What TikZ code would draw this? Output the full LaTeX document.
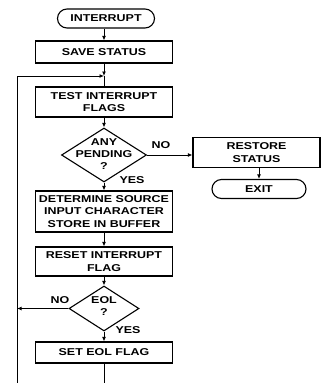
\documentclass[tikz,border=0pt]{standalone}
\usepackage{fontspec}
\setmainfont{Liberation Sans}[FakeStretch=1.25]
\usetikzlibrary{shapes.misc,shapes.geometric,arrows.meta}
\begin{document}
\begin{tikzpicture}[x=1bp,y=-1bp,
 every node/.style={font=\bfseries\fontsize{10}{12.3}\selectfont, align=center, inner sep=0pt},
 proc/.style={draw, line width=1.1bp, minimum width=137bp},
 term/.style={draw, rounded rectangle, line width=1.1bp},
 dia/.style={draw, diamond, line width=1.1bp},
 arr/.style={line width=1bp, -{Latex[length=4.5bp,width=4bp]}},
 ln/.style={line width=1bp}]
\fill[white] (0,0) rectangle (331,383);
\useasboundingbox (0,0) rectangle (331,383);
% nodes
\node[term, minimum width=97bp, minimum height=19bp] (int) at (106,18.5) {INTERRUPT};
\node[proc, minimum height=22bp] (save) at (104,52) {SAVE STATUS};
\coordinate (j) at (104,76);
\node[proc, minimum height=30bp] (test) at (104,102) {TEST INTERRUPT\\FLAGS};
\node[dia, minimum width=85bp, minimum height=54bp] (any) at (104,155) {};
\node (anyt) at (104,154) {ANY\\PENDING\\?};
\node[proc, minimum height=41bp] (det) at (104,211.5) {DETERMINE SOURCE\\INPUT CHARACTER\\STORE IN BUFFER};
\node[proc, minimum height=29bp] (reset) at (104,261.5) {RESET INTERRUPT\\FLAG};
\node[dia, minimum width=70bp, minimum height=45bp] (eol) at (104,308.5) {};
\node (eolt) at (104,306) {EOL\\?};
\node[proc, minimum height=21bp] (set) at (104,352.5) {SET EOL FLAG};
\node[proc, minimum width=127bp, minimum height=30bp] (rest) at (256.5,152.5) {RESTORE\\STATUS};
\node[term, minimum width=94bp, minimum height=19bp] (exit) at (259,189) {EXIT};
% labels
\node (no1) at (161,145) {NO};
\node (yes1) at (132,180) {YES};
\node (no2) at (60,300) {NO};
\node (yes2) at (128,330) {YES};
% free ends
\coordinate (bl) at (17,383);
\coordinate (bm) at (104,383);
% connectors
\draw[arr] (int.south -| j) -- (save.north -| j);
\draw[arr] (save.south -| j) -- (j);
\draw[ln] (j) -- (test.north -| j);
\draw[arr] (bl) |- (j);
\draw[arr] (test) -- (any);
\draw[arr] (any.east) -- (any.east -| rest.west);
\draw[arr] (exit.north |- rest.south) -- (exit.north);
\draw[arr] (any) -- (det);
\draw[arr] (det) -- (reset);
\draw[arr] (reset) -- (eol);
\draw[arr] (eol.west) -- (eol.west -| bl);
\draw[arr] (eol) -- (set);
\draw[ln] (set) -- (bm);
\end{tikzpicture}
\end{document}
